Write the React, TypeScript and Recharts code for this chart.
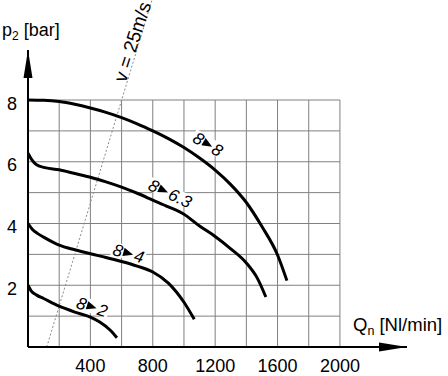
import React from 'react';
import { ComposedChart, Line, XAxis, YAxis, ReferenceLine, ReferenceDot } from 'recharts';

const FONT = '"Liberation Sans", Arial, Helvetica, sans-serif';

// axis extents (data units)
const X_MAX = 2430;
const Y_MAX = 9.62;
const GRID_X_MAX = 2000;
const GRID_Y_MAX = 8;

const X_TICKS = [400, 800, 1200, 1600, 2000];
const Y_TICKS = [2, 4, 6, 8];
const GRID_X = [200, 400, 600, 800, 1000, 1200, 1400, 1600, 1800, 2000];
const GRID_Y = [1, 2, 3, 4, 5, 6, 7, 8];

// curve 8 -> 8
const Q_8_8 = [0, 100, 200, 300, 400, 500, 600, 700, 800, 900, 1000, 1100, 1200, 1300, 1400, 1500, 1600, 1660];
const P_8_8 = [8.0, 7.99, 7.95, 7.86, 7.74, 7.6, 7.43, 7.23, 7.0, 6.75, 6.46, 6.12, 5.73, 5.26, 4.68, 3.9, 2.98, 2.15];
// curve 8 -> 6.3
const Q_8_63 = [0, 25, 55, 100, 200, 300, 400, 500, 600, 700, 800, 900, 1000, 1100, 1200, 1300, 1400, 1470, 1525];
const P_8_63 = [6.28, 6.06, 5.9, 5.82, 5.74, 5.62, 5.5, 5.35, 5.18, 4.98, 4.76, 4.54, 4.3, 3.92, 3.58, 3.18, 2.72, 2.23, 1.62];
// curve 8 -> 4
const Q_8_4 = [0, 30, 60, 100, 200, 300, 400, 500, 600, 700, 800, 900, 1000, 1066];
const P_8_4 = [4.0, 3.8, 3.68, 3.56, 3.3, 3.15, 3.02, 2.9, 2.77, 2.62, 2.43, 2.07, 1.45, 0.9];
// curve 8 -> 2
const Q_8_2 = [0, 20, 56, 100, 200, 300, 400, 460, 526, 570];
const P_8_2 = [2.0, 1.82, 1.68, 1.57, 1.32, 1.13, 0.97, 0.81, 0.55, 0.3];

// curve labels: inlet -> outlet pressure
const LABEL_FROM = ['8', '8', '8', '8'];
const LABEL_TO = ['8', '6.3', '4', '2'];
const LABEL_Q = [1150, 866, 640, 406];
const LABEL_P = [6.58, 5.08, 3.04, 1.31];
const LABEL_ANGLE = [31, 25, 16, 18];

// v = 25 m/s line
const V_LINE_Q = [120, 795];
const V_LINE_P = [0, 11.24];
const V_LABEL = 'v = 25m/s';
const V_LABEL_Q = 667;
const V_LABEL_P = 9.89;

const zip = (q: number[], p: number[]) => q.map((v, i) => ({ q: v, p: p[i] }));

const SERIES = [
  { key: '8-8', data: zip(Q_8_8, P_8_8) },
  { key: '8-6.3', data: zip(Q_8_63, P_8_63) },
  { key: '8-4', data: zip(Q_8_4, P_8_4) },
  { key: '8-2', data: zip(Q_8_2, P_8_2) },
];

const XTick = (props: any) => {
  const { x, y, payload } = props;
  return (
    <text x={x} y={y + 25} textAnchor="middle" fontSize={18} fontFamily={FONT} fill="#000">
      {payload.value}
    </text>
  );
};

const YTick = (props: any) => {
  const { x, y, payload } = props;
  return (
    <text x={x - 11} y={y + 9.5} textAnchor="end" fontSize={18} fontFamily={FONT} fill="#000">
      {payload.value}
    </text>
  );
};

const makeCurveLabel = (from: string, to: string, angle: number) => (props: any) => {
  const { cx, cy } = props;
  const leftW = from.length * 9.5 + 1;
  const rightW = to.length * 9 + 1;
  return (
    <g transform={`translate(${cx},${cy}) rotate(${angle})`}>
      <rect x={-6 - leftW} y={-7} width={leftW + rightW + 14} height={13.5} fill="#fff" />
      <text x={-5.5} y={6} textAnchor="end" fontSize={17} fontStyle="italic" fontFamily={FONT} fill="#000">
        {from}
      </text>
      <polygon points="-4.5,-4.2 5.5,0 -4.5,4.2" fill="#000" />
      <text x={7} y={6} textAnchor="start" fontSize={17} fontStyle="italic" fontFamily={FONT} fill="#000">
        {to}
      </text>
    </g>
  );
};

const XArrow = (props: any) => {
  const { cx, cy } = props;
  return <polygon points={`${cx},${cy} ${cx - 28},${cy - 4.5} ${cx - 28},${cy + 4.5}`} fill="#000" />;
};

const YArrow = (props: any) => {
  const { cx, cy } = props;
  return <polygon points={`${cx},${cy} ${cx - 4.5},${cy + 28} ${cx + 4.5},${cy + 28}`} fill="#000" />;
};

const VLabel = (props: any) => {
  const { cx, cy } = props;
  return (
    <text
      x={cx}
      y={cy}
      dy="0.36em"
      textAnchor="middle"
      transform={`rotate(-72 ${cx} ${cy})`}
      fontSize={19}
      fontFamily={FONT}
      fill="#000"
    >
      {V_LABEL}
    </text>
  );
};

export default function App() {
  return (
    <div style={{ position: 'absolute', left: 0, top: 0, width: 448, height: 376, background: '#fff' }}>
      <ComposedChart
        width={448}
        height={376}
        margin={{ top: 50, right: 41, bottom: 0, left: 0 }}
        style={{ overflow: 'visible' }}
      >
        <XAxis
          type="number"
          dataKey="q"
          domain={[0, X_MAX]}
          ticks={X_TICKS}
          tick={<XTick />}
          tickLine={false}
          tickSize={0}
          tickMargin={0}
          height={29}
          axisLine={{ stroke: '#000', strokeWidth: 2 }}
          allowDataOverflow
        />
        <YAxis
          type="number"
          dataKey="p"
          domain={[0, Y_MAX]}
          ticks={Y_TICKS}
          tick={<YTick />}
          tickLine={false}
          tickSize={0}
          tickMargin={0}
          width={28}
          axisLine={{ stroke: '#000', strokeWidth: 2 }}
          allowDataOverflow
        />
        {GRID_X.map((gx) => (
          <ReferenceLine
            key={'gx' + gx}
            segment={[{ x: gx, y: 0 }, { x: gx, y: GRID_Y_MAX }]}
            stroke="#808080"
            strokeWidth={1}
          />
        ))}
        {GRID_Y.map((gy) => (
          <ReferenceLine
            key={'gy' + gy}
            segment={[{ x: 0, y: gy }, { x: GRID_X_MAX, y: gy }]}
            stroke="#808080"
            strokeWidth={1}
          />
        ))}
        <ReferenceLine
          segment={[{ x: V_LINE_Q[0], y: V_LINE_P[0] }, { x: V_LINE_Q[1], y: V_LINE_P[1] }]}
          stroke="#8a8a8a"
          strokeWidth={1}
          strokeDasharray="2 2"
          ifOverflow="visible"
        />
        {LABEL_FROM.map((f, i) => (
          <ReferenceDot
            key={'lbl' + i}
            x={LABEL_Q[i]}
            y={LABEL_P[i]}
            r={1}
            ifOverflow="visible"
            shape={makeCurveLabel(f, LABEL_TO[i], LABEL_ANGLE[i])}
          />
        ))}
        {SERIES.map((s) => (
          <Line
            key={s.key}
            data={s.data}
            dataKey="p"
            type="monotone"
            stroke="#000"
            strokeWidth={3}
            dot={false}
            activeDot={false}
            isAnimationActive={false}
          />
        ))}
        <ReferenceDot x={V_LABEL_Q} y={V_LABEL_P} r={1} ifOverflow="visible" shape={<VLabel />} />
        <ReferenceDot x={X_MAX} y={0} r={1} ifOverflow="visible" shape={<XArrow />} />
        <ReferenceDot x={0} y={Y_MAX} r={1} ifOverflow="visible" shape={<YArrow />} />
      </ComposedChart>
      <svg width={448} height={376} style={{ position: 'absolute', left: 0, top: 0, pointerEvents: 'none' }}>
        <text x={2} y={36} fontSize={18} fontFamily={FONT} fill="#000">
          p<tspan fontSize={12} dy={4}>2</tspan>
          <tspan dy={-4}> [bar]</tspan>
        </text>
        <text x={353} y={331} fontSize={18.5} fontFamily={FONT} fill="#000">
          Q<tspan fontSize={12.5} dy={4}>n</tspan>
          <tspan dy={-4}> [Nl/min]</tspan>
        </text>
      </svg>
    </div>
  );
}
